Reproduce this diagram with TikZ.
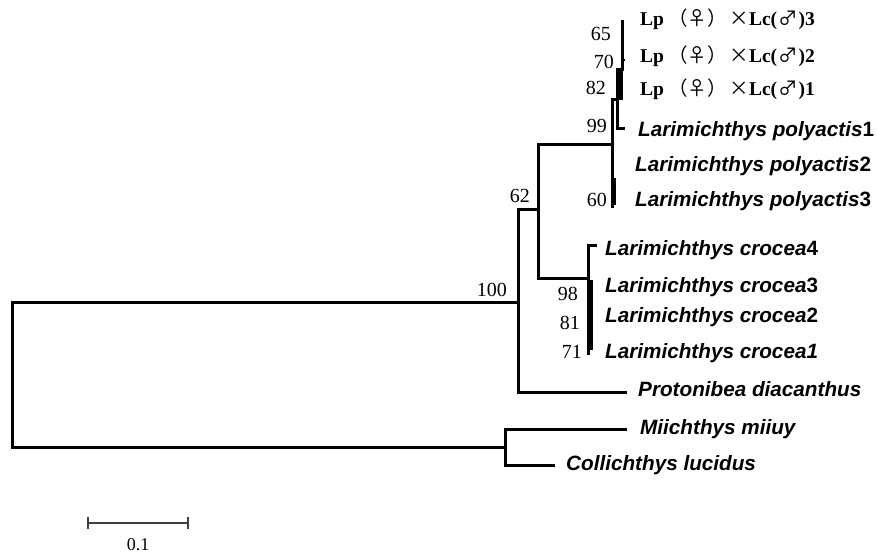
\documentclass[tikz,border=0pt]{standalone}
\usepackage{fontspec}
\setmainfont{Liberation Serif}
\newfontfamily\leaffont{Liberation Sans}
\newfontfamily\cjk{Noto Sans CJK SC}
\newcommand{\hybl}[1]{Lp\hspace{4pt}{\cjk\mdseries （♀）}\hspace{3pt}{\cjk\mdseries ×}Lc(\hspace{1pt}{\cjk\mdseries ♂}\hspace{1pt})#1}
\begin{document}
\begin{tikzpicture}[x=1pt,y=-1pt,
  branch/.style={line width=3pt,line join=miter,line cap=rect},
  zerobr/.style={line width=5pt},
  leaf/.style={anchor=base west,inner sep=0pt,font=\leaffont\fontsize{20.7}{24}\selectfont\bfseries\itshape},
  hyb/.style={anchor=base west,inner sep=0pt,font=\fontsize{19.5}{22}\selectfont\bfseries},
  boot/.style={anchor=base east,inner sep=0pt,font=\fontsize{20}{22}\selectfont},
  scalebar/.style={line width=1.6pt,draw=black!75}]
\useasboundingbox (0,0) rectangle (877,553);
% internal nodes
\coordinate (R) at (12,374.5);
\coordinate (A) at (518,302);
\coordinate (B) at (505,447);
\coordinate (C) at (538,210);
\coordinate (D) at (612,145);
\coordinate (D1) at (612,207);
\coordinate (E) at (588,278);
\coordinate (E1) at (588,353);
\coordinate (F) at (617,100);
\coordinate (G) at (622,70);
% leaf tips
\coordinate (tLp3) at (622,22);
\coordinate (tLp2) at (625,60);
\coordinate (tPol1) at (623,129);
\coordinate (tCro4) at (595,245);
\coordinate (tPro) at (625,392);
\coordinate (tMii) at (625,429);
\coordinate (tCol) at (553,465);
% branches
\draw[branch] (A) -| (R) |- (B);
\draw[branch] (tMii) -| (B) |- (tCol);
\draw[branch] (C) -| (A) |- (tPro);
\draw[branch] (D) -| (C) |- (E);
\draw[branch] (tCro4) -| (E) |- (E1);
\draw[branch] (F) -| (D) |- (D1);
\draw[branch] (G) -| (F) |- (tPol1);
\draw[branch] (tLp3) -- (G);
\draw[line width=2pt] (tLp3 |- tLp2) -- (tLp2);
\draw[zerobr] ([xshift=-1.5pt]G) -- ([xshift=-1.5pt]G |- F);
\draw[zerobr] (613.5,178) -- (613.5,205);
\draw[zerobr] (590,280) -- (590,315);
\draw[line width=4pt] (591,315) -- (591,350);
% leaves
\node[hyb] (Lp3) at (640,26) {\hybl{3}};
\node[hyb] (Lp2) at (640,63) {\hybl{2}};
\node[hyb] (Lp1) at (640,96) {\hybl{1}};
\node[leaf] (Pol1) at (638,137) {Larimichthys polyactis\upshape1};
\node[leaf] (Pol2) at (635,172) {Larimichthys polyactis\upshape2};
\node[leaf] (Pol3) at (635,207) {Larimichthys polyactis\upshape3};
\node[leaf] (Cro4) at (605,255) {Larimichthys crocea\upshape4};
\node[leaf] (Cro3) at (605,292) {Larimichthys crocea\upshape3};
\node[leaf] (Cro2) at (605,322) {Larimichthys crocea\upshape2};
\node[leaf] (Cro1) at (605,358) {Larimichthys crocea\itshape1};
\node[leaf] (Pro) at (638,396) {Protonibea diacanthus};
\node[leaf] (Mii) at (640,434) {Miichthys miiuy};
\node[leaf] (Col) at (566,470) {Collichthys lucidus};
% bootstrap values
\node[boot] (b65) at (611,41) {65};
\node[boot] (b70) at (614,69) {70};
\node[boot] (b82) at (606,95) {82};
\node[boot] (b99) at (607,133) {99};
\node[boot] (b60) at (607,207) {60};
\node[boot] (b62) at (530,203) {62};
\node[boot] (b100) at (507,296) {100};
\node[boot] (b98) at (578,300) {98};
\node[boot] (b81) at (580,329) {81};
\node[boot] (b71) at (582,358) {71};
% scale bar
\coordinate (s0) at (88,523);
\coordinate (s1) at (188,523);
\draw[scalebar] (s0) -- (s1);
\draw[scalebar] ([yshift=-6pt]s0) -- ([yshift=6pt]s0);
\draw[scalebar] ([yshift=-6pt]s1) -- ([yshift=6pt]s1);
\node[anchor=base,inner sep=0pt,font=\fontsize{18}{20}\selectfont] (sl) at (138,550) {0.1};
\end{tikzpicture}
\end{document}
